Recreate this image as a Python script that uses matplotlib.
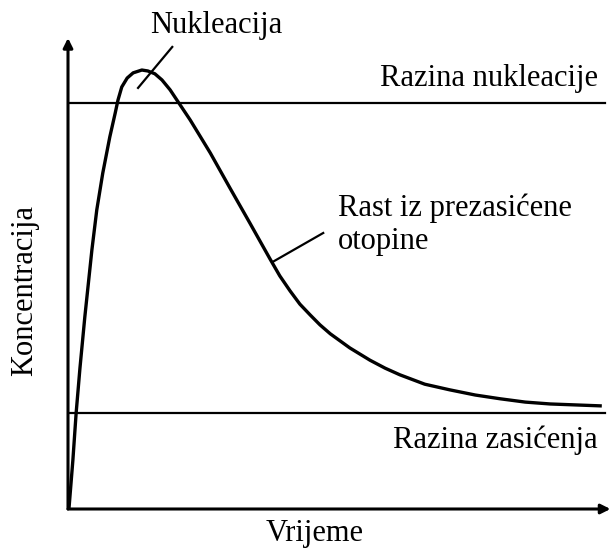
import matplotlib
matplotlib.use('Agg')
import matplotlib.pyplot as plt

plt.rcParams['font.family'] = ['Liberation Serif', 'DejaVu Serif']

# concentration vs time (arbitrary units 0..10)
time = [0.02, 0.09, 0.15, 0.22, 0.31, 0.44, 0.53, 0.64, 0.77, 0.87, 0.92, 0.99, 1.09,
        1.20, 1.36, 1.47, 1.60, 1.73, 1.88, 2.03, 2.25, 2.43, 2.62, 2.98, 3.35, 3.72,
        3.90, 4.09, 4.27, 4.46, 4.64, 4.83, 5.19, 5.56, 5.84, 6.11, 6.57, 7.03, 7.50,
        7.96, 8.42, 8.88, 9.34, 9.80]
conc = [0.04, 1.04, 2.04, 2.99, 4.08, 5.50, 6.35, 7.13, 7.90, 8.41, 8.68, 8.96, 9.15,
        9.26, 9.32, 9.30, 9.24, 9.11, 8.90, 8.64, 8.26, 7.92, 7.56, 6.82, 6.07, 5.31,
        4.95, 4.63, 4.35, 4.12, 3.91, 3.72, 3.42, 3.16, 2.99, 2.85, 2.65, 2.53, 2.42,
        2.34, 2.27, 2.23, 2.21, 2.19]

nucleation_level = 8.62
saturation_level = 2.04
level_end = 9.89

fig = plt.figure(figsize=(6.11, 5.48), dpi=100)
ax = fig.add_axes([68 / 611, 39 / 548, 543 / 611, 471 / 548])
ax.set_xlim(0, 10)
ax.set_ylim(0, 10)
ax.axis('off')

# axes with arrow heads
arrow = dict(arrowstyle='-|>', color='black', lw=2.2, mutation_scale=14, shrinkA=0, shrinkB=0)
ax.annotate('', xy=(0, 10.0), xytext=(0, 0), arrowprops=arrow)
ax.annotate('', xy=(9.99, 0), xytext=(0, 0), arrowprops=arrow)

ax.plot([0, level_end], [nucleation_level] * 2, color='black', lw=1.6)
ax.plot([0, level_end], [saturation_level] * 2, color='black', lw=1.6)
ax.plot(time, conc, color='black', lw=2.4, solid_joinstyle='round')

# leader lines
ax.plot([1.29, 1.92], [8.94, 9.81], color='black', lw=1.6, clip_on=False)
ax.plot([3.76, 4.70], [5.24, 5.86], color='black', lw=1.6)

fs = 22
ax.text(2.73, 10.27, 'Nukleacija', fontsize=fs, ha='center', va='center')
ax.text(9.76, 9.15, 'Razina nukleacije', fontsize=fs, ha='right', va='center')
ax.text(9.76, 1.46, 'Razina zasićenja', fontsize=fs, ha='right', va='center')
ax.text(4.97, 6.03, 'Rast iz prezasićene\notopine', fontsize=fs, ha='left', va='center')

fig.text(25 / 611, 1 - 290 / 548, 'Koncentracija', fontsize=fs, rotation=90,
         ha='center', va='center')
fig.text(315 / 611, 1 - 533 / 548, 'Vrijeme', fontsize=fs, ha='center', va='center')

fig.savefig('out.png', dpi=100)
